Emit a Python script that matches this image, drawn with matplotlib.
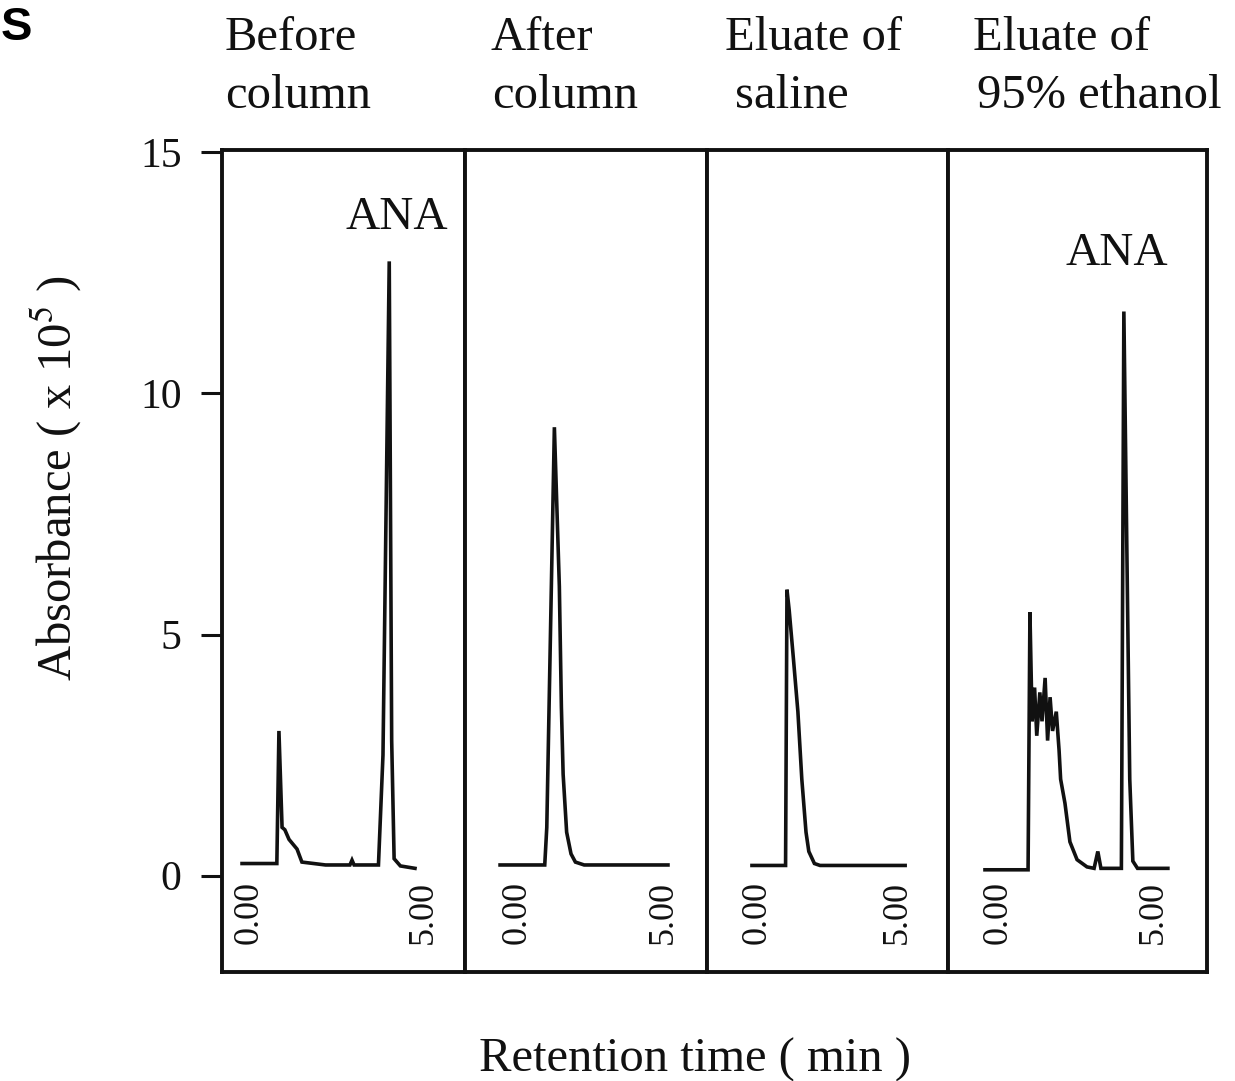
import numpy as np
import matplotlib.pyplot as plt

plt.rcParams['font.family'] = ['Liberation Serif', 'DejaVu Serif']
plt.rcParams['mathtext.fontset'] = 'stix'

# chromatograms, time in min, absorbance in x 10^5
before_t = [-0.20, 0.80, 0.86, 0.95, 1.03, 1.15, 1.38, 1.52, 2.20, 2.90, 2.96, 3.02, 3.72, 3.85, 4.03, 4.10, 4.17, 4.35, 4.77]
before_v = [0.25, 0.25, 3.00, 1.00, 0.95, 0.75, 0.55, 0.28, 0.22, 0.22, 0.32, 0.22, 0.22, 2.50, 12.74, 2.80, 0.35, 0.20, 0.15]

after_t = [-0.58, 0.95, 1.02, 1.28, 1.45, 1.52, 1.58, 1.70, 1.85, 2.00, 2.30, 5.17]
after_v = [0.22, 0.22, 1.00, 9.30, 6.00, 3.50, 2.10, 0.90, 0.45, 0.28, 0.22, 0.22]

saline_t = [-0.18, 1.02, 1.07, 1.15, 1.30, 1.46, 1.60, 1.75, 1.85, 2.05, 2.25, 5.29]
saline_v = [0.21, 0.21, 5.93, 5.50, 4.50, 3.40, 2.00, 0.90, 0.50, 0.25, 0.21, 0.21]

ethanol_t = [-0.42, 0.97, 1.03, 1.10, 1.18, 1.25, 1.35, 1.42, 1.52, 1.60, 1.68, 1.76, 1.88, 1.97, 2.02, 2.16, 2.32,
             2.55, 2.87, 3.10, 3.22, 3.32, 3.98, 4.06, 4.25, 4.35, 4.50, 5.48]
ethanol_v = [0.12, 0.12, 5.46, 3.20, 3.90, 2.90, 3.80, 3.20, 4.10, 2.80, 3.70, 3.00, 3.40, 2.60, 2.00, 1.50, 0.70,
             0.33, 0.18, 0.15, 0.50, 0.15, 0.15, 11.70, 2.00, 0.30, 0.15, 0.15]

titles = [('Before', 'column'), ('After', 'column'), ('Eluate of', 'saline'), ('Eluate of', '95% ethanol')]
series = [(before_t, before_v), (after_t, after_v), (saline_t, saline_v), (ethanol_t, ethanol_v)]
yticks = [0, 5, 10, 15]

W, H = 1235, 1081
fig = plt.figure(figsize=(W / 100, H / 100), dpi=100)
gs = fig.add_gridspec(1, 4, left=222 / W, right=1207 / W, bottom=1 - 972 / H, top=1 - 150 / H,
                      wspace=0, width_ratios=[243, 242, 241, 259])

xlims = [(-0.776, 6.207), (-1.781, 6.507), (-1.786, 6.821), (-1.613, 6.742)]
ink = '#111111'

for i, (t, v) in enumerate(series):
    ax = fig.add_subplot(gs[0, i])
    ax.plot(t, v, color=ink, lw=2.6, solid_joinstyle='miter')
    ax.set_xlim(*xlims[i])
    ax.set_ylim(-2.0, 15.05)
    ax.set_xticks([])
    for s in ax.spines.values():
        s.set_linewidth(2.8)
        s.set_color(ink)
    if i == 0:
        ax.set_yticks(yticks)
        ax.tick_params(axis='y', direction='out', length=15, width=2.2, pad=14, labelsize=30, colors=ink)
    else:
        ax.set_yticks([])
    ax.text(0, -0.12, '0.00', rotation=90, ha='center', va='top', fontsize=26, color=ink)
    ax.text(5, -0.12, '5.00', rotation=90, ha='center', va='top', fontsize=26, color=ink)

# headers above the panels
head_x1 = [225, 490, 725, 973]
head_x2 = [225, 492, 735, 977]
for i, (l1, l2) in enumerate(titles):
    fig.text(head_x1[i] / W, 1 - 50 / H, l1, ha='left', va='baseline', fontsize=35, color=ink)
    fig.text(head_x2[i] / W, 1 - 108 / H, l2, ha='left', va='baseline', fontsize=35, color=ink)

fig.text(345 / W, 1 - 229 / H, 'ANA', ha='left', va='baseline', fontsize=34, color=ink)
fig.text(1065 / W, 1 - 265 / H, 'ANA', ha='left', va='baseline', fontsize=34, color=ink)

fig.text(1 / W, 1 - 40 / H, 'S', ha='left', va='baseline', fontsize=34, fontweight='bold',
         family='Liberation Sans', color='black')

fig.text(55 / W, 1 - 478 / H, 'Absorbance ( x 10$^5$ )', rotation=90, ha='center', va='center',
         fontsize=35, color=ink)
fig.text(695 / W, 1 - 1072 / H, 'Retention time ( min )', ha='center', va='baseline', fontsize=35, color=ink)

fig.savefig('out.png', dpi=100)
